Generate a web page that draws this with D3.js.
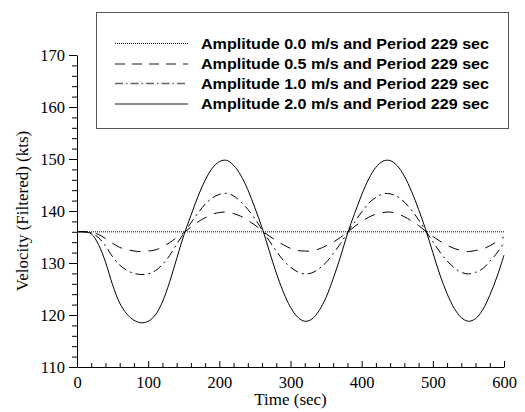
<!DOCTYPE html>
<html>
<head>
<meta charset="utf-8">
<script src="https://cdn.jsdelivr.net/npm/d3@7"></script>
<style>
  html, body { margin: 0; padding: 0; background: #fff; }
  svg { display: block; }
  .axis text { font-family: "Liberation Serif", "Times New Roman", serif; font-size: 16.5px; fill: #000; }
  .axis path, .axis line { stroke: #000; stroke-width: 1; }
  .legend-text { font-family: "Liberation Sans", Arial, sans-serif; font-size: 15px; font-weight: bold; fill: #000; }
</style>
</head>
<body>
<div id="chart"></div>
<script>
// Time samples (sec)
var times = [0, 10, 20, 30, 40, 50, 60, 70, 80, 90,
  100, 110, 120, 130, 140, 150, 160, 170, 180, 190,
  200, 210, 220, 230, 240, 250, 260, 270, 280, 290,
  300, 310, 320, 330, 340, 350, 360, 370, 380, 390,
  400, 410, 420, 430, 440, 450, 460, 470, 480, 490,
  500, 510, 520, 530, 540, 550, 560, 570, 580, 590, 600];

// Amplitude 0.0 m/s : flat line
var baseTimes = [0, 600];
var amp00 = [136, 136];

// Amplitude 0.5 m/s
var amp05 = [136, 136, 135.9, 135.5, 134.7, 133.8, 133.0, 132.6, 132.3, 132.2,
  132.3, 132.5, 133.1, 133.9, 134.9, 135.8, 136.9, 137.9, 138.7, 139.4,
  139.7, 139.8, 139.5, 139.0, 138.2, 137.3, 136.2, 135.2, 134.3, 133.5,
  132.8, 132.4, 132.3, 132.3, 132.7, 133.3, 134.0, 134.9, 135.9, 137.0,
  138.0, 138.8, 139.4, 139.7, 139.8, 139.5, 138.9, 138.1, 137.2, 136.1,
  135.1, 134.2, 133.4, 132.8, 132.4, 132.2, 132.4, 132.7, 133.3, 134.1, 135.0];

// Amplitude 1.0 m/s
var amp10 = [136, 136, 135.8, 134.9, 133.3, 131.2, 129.6, 128.6, 128.0, 127.8,
  127.9, 128.5, 129.7, 131.4, 133.6, 135.7, 137.7, 139.6, 141.3, 142.5,
  143.2, 143.4, 142.9, 141.8, 140.3, 138.5, 136.4, 134.3, 132.3, 130.5,
  129.2, 128.3, 127.9, 128.1, 128.9, 130.1, 131.8, 133.7, 135.8, 137.9,
  139.8, 141.5, 142.6, 143.3, 143.3, 142.8, 141.7, 140.2, 138.3, 136.2,
  134.1, 132.1, 130.4, 129.1, 128.2, 127.9, 128.2, 128.9, 130.3, 131.9, 133.9];

// Amplitude 2.0 m/s
var amp20 = [136, 136, 135.6, 133.6, 130.2, 125.8, 122.3, 120.2, 119.0, 118.5,
  118.8, 120.0, 122.5, 126.3, 130.8, 135.3, 139.1, 142.8, 145.9, 148.2,
  149.5, 149.75, 148.8, 146.9, 144.1, 140.6, 136.8, 132.4, 128.1, 124.4,
  121.5, 119.6, 118.8, 119.2, 120.8, 123.4, 127.0, 131.1, 135.6, 139.5,
  143.1, 146.2, 148.4, 149.6, 149.7, 148.7, 146.7, 143.8, 140.3, 136.4,
  132.0, 127.7, 124.1, 121.3, 119.5, 118.8, 119.3, 121.0, 123.8, 127.3, 131.5];

var legendLabels = [
  'Amplitude 0.0 m/s and Period 229 sec',
  'Amplitude 0.5 m/s and Period 229 sec',
  'Amplitude 1.0 m/s and Period 229 sec',
  'Amplitude 2.0 m/s and Period 229 sec'
];
var dashStyles = ['1,1', '11,8', '9,4,2,4', null];

var xMajor = [0, 100, 200, 300, 400, 500, 600];
var xMinor = [20, 40, 60, 80, 120, 140, 160, 180, 220, 240, 260, 280,
  320, 340, 360, 380, 420, 440, 460, 480, 520, 540, 560, 580];
var yMajor = [110, 120, 130, 140, 150, 160, 170];
var yMinor = [112, 114, 116, 118, 122, 124, 126, 128, 132, 134, 136, 138,
  142, 144, 146, 148, 152, 154, 156, 158, 162, 164, 166, 168];

(function() {
  var width = 525, height = 412;
  var margin = { top: 55, right: 21, bottom: 45, left: 77 };
  var innerWidth = width - margin.left - margin.right;
  var innerHeight = height - margin.top - margin.bottom;

  var svg = d3.select('#chart').append('svg')
    .attr('width', width)
    .attr('height', height);

  var x = d3.scaleLinear().domain([0, 600]).range([0, innerWidth]);
  var y = d3.scaleLinear().domain([110, 170]).range([innerHeight, 0]);

  var g = svg.append('g')
    .attr('transform', 'translate(' + margin.left + ',' + margin.top + ')');

  // Series
  var series = [
    { t: baseTimes, v: amp00 },
    { t: times, v: amp05 },
    { t: times, v: amp10 },
    { t: times, v: amp20 }
  ];

  var line = d3.line()
    .x(function(d) { return x(d[0]); })
    .y(function(d) { return y(d[1]); })
    .curve(d3.curveCatmullRom.alpha(0.5));

  series.forEach(function(s, i) {
    var pts = s.t.map(function(t, j) { return [t, s.v[j]]; });
    g.append('path')
      .attr('d', line(pts))
      .attr('fill', 'none')
      .attr('stroke', '#000')
      .attr('stroke-width', 1)
      .attr('stroke-dasharray', dashStyles[i]);
  });

  // Minor ticks
  g.append('g').attr('class', 'axis')
    .attr('transform', 'translate(0,' + innerHeight + ')')
    .call(d3.axisBottom(x).tickValues(xMinor).tickSize(-4).tickSizeOuter(0).tickFormat(''))
    .select('.domain').remove();
  g.append('g').attr('class', 'axis')
    .call(d3.axisLeft(y).tickValues(yMinor).tickSize(5).tickSizeOuter(0).tickFormat(''))
    .select('.domain').remove();

  // Major axes
  g.append('g').attr('class', 'axis')
    .attr('transform', 'translate(0,' + innerHeight + ')')
    .call(d3.axisBottom(x).tickValues(xMajor).tickSize(-6).tickSizeOuter(0).tickPadding(9));
  g.append('g').attr('class', 'axis')
    .call(d3.axisLeft(y).tickValues(yMajor).tickSize(8).tickSizeOuter(0).tickPadding(4));

  // Axis titles
  svg.append('text')
    .attr('x', margin.left + innerWidth / 2)
    .attr('y', 405)
    .attr('text-anchor', 'middle')
    .style('font', '17px "Liberation Serif", "Times New Roman", serif')
    .text('Time (sec)');

  svg.append('text')
    .attr('transform', 'translate(28,' + (margin.top + innerHeight / 2) + ') rotate(-90)')
    .attr('text-anchor', 'middle')
    .style('font', '17px "Liberation Serif", "Times New Roman", serif')
    .text('Velocity (Filtered) (kts)');

  // Legend
  var legend = svg.append('g');
  legend.append('rect')
    .attr('x', 96.5).attr('y', 12.5)
    .attr('width', 412).attr('height', 116)
    .attr('fill', '#fff')
    .attr('stroke', '#555')
    .attr('stroke-width', 1);

  var rowY = [43.5, 64, 83.5, 104];
  legendLabels.forEach(function(lbl, i) {
    legend.append('line')
      .attr('x1', 115).attr('x2', 188)
      .attr('y1', rowY[i]).attr('y2', rowY[i])
      .attr('stroke', i === 0 ? '#000' : '#666')
      .attr('stroke-width', i === 0 ? 1 : 1.5)
      .attr('stroke-dasharray', i === 1 ? '10,7' : (i === 2 ? '8,3,1.5,3' : dashStyles[i]));
    legend.append('text')
      .attr('class', 'legend-text')
      .attr('x', 201)
      .attr('y', rowY[i] + 5)
      .attr('textLength', 288)
      .attr('lengthAdjust', 'spacingAndGlyphs')
      .text(lbl);
  });
})();
</script>
</body>
</html>
